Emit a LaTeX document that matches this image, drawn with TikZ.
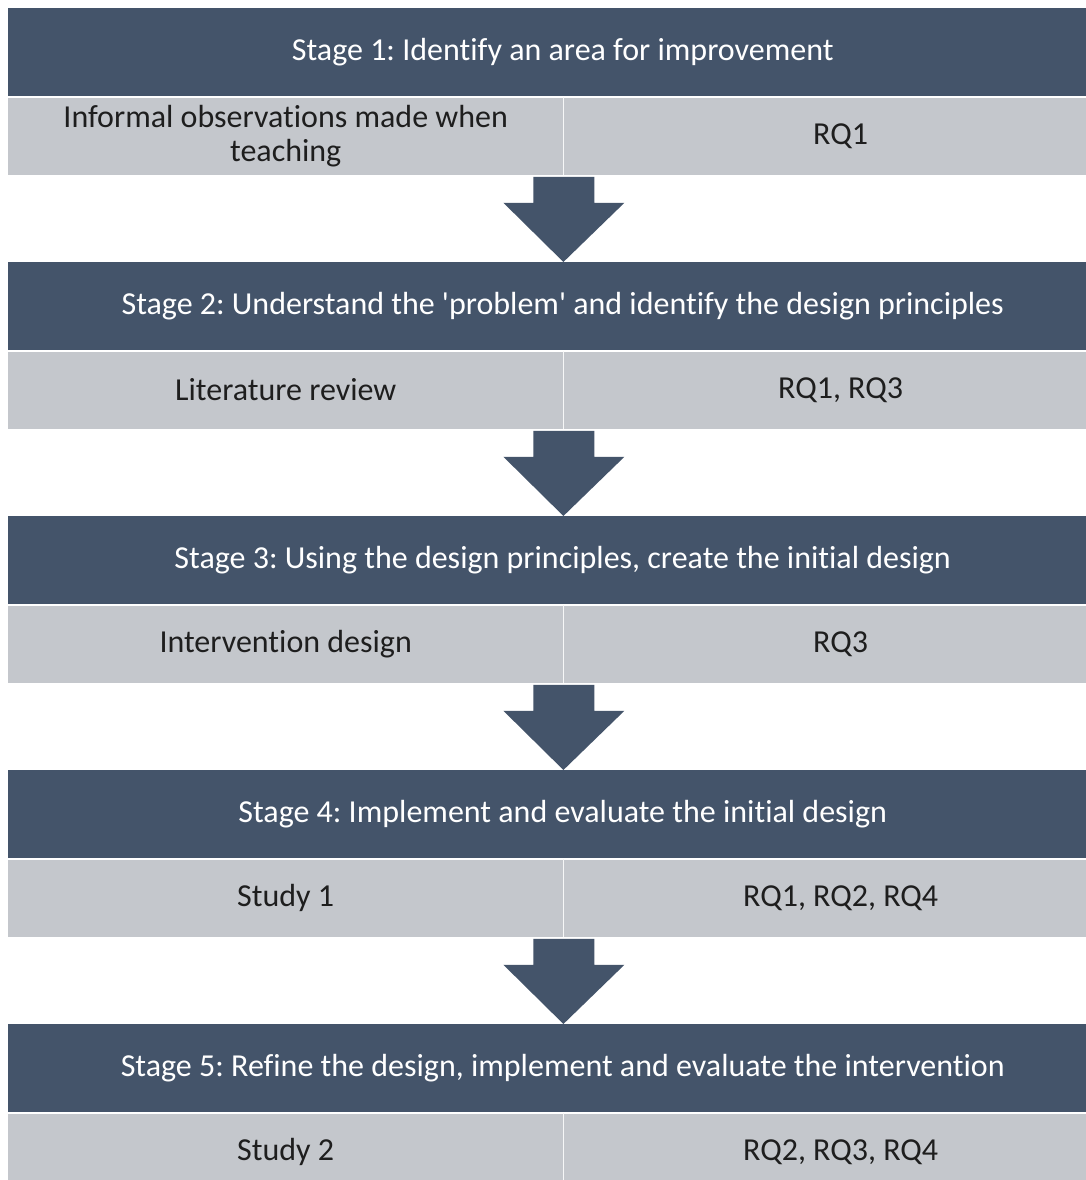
\documentclass[tikz,border=0pt]{standalone}
\usepackage{fontspec}
\setmainfont{Carlito}[Ligatures={TeX,NoCommon}]
\frenchspacing
\usetikzlibrary{calc}
\definecolor{slate}{HTML}{44546A}
\definecolor{rowgray}{HTML}{C4C7CC}
\definecolor{ink}{HTML}{1E1E1E}
\begin{document}
\begin{tikzpicture}[x=1pt,y=-1pt,
  header/.style={fill=slate, text=white, minimum width=1109pt, minimum height=88pt,
    inner sep=0pt, anchor=north west, font=\fontsize{32}{36}\selectfont},
  cell/.style={fill=rowgray, text=ink, minimum width=555pt, minimum height=77pt,
    inner sep=0pt, anchor=north west, align=center, font=\fontsize{32}{34}\selectfont},
  divider/.style={draw=white!85!rowgray, line width=1.5pt},
  blockarrow/.style={fill=slate}]
\useasboundingbox (0,0) rectangle (1086,1180);
\clip (0,0) rectangle (1086,1180);
\fill[white] (0,0) rectangle (1086,1180);

% five stages: dark heading bar over a two-cell grey row
\foreach \i/\head/\left/\right in {
  1/{Stage 1: Identify an area for improvement}/{Informal observations made when\\teaching}/{RQ1},
  2/{Stage 2: Understand the \textquotesingle problem\textquotesingle{} and identify the design principles}/{Literature review}/{RQ1, RQ3},
  3/{Stage 3: Using the design principles, create the initial design}/{Intervention design}/{RQ3},
  4/{Stage 4: Implement and evaluate the initial design}/{Study 1}/{RQ1, RQ2, RQ4},
  5/{Stage 5: Refine the design, implement and evaluate the intervention}/{Study 2}/{RQ2, RQ3, RQ4}} {
  \pgfmathsetmacro\t{8+(\i-1)*254}
  \node[header] (h\i) at (8,\t) {\head};
  \node[cell] (l\i) at ([yshift=-1pt]h\i.south west) {\left};
  \node[cell, minimum width=554pt] (r\i) at (l\i.north east) {\right};
  \draw[divider] (l\i.north east) -- (l\i.south east);
}

% block arrows leading from each stage to the next
\foreach \i in {1,...,4} {
  \pgfmathtruncatemacro\j{\i+1}
  \fill[blockarrow]
    ([xshift=-30pt,yshift=-2pt]l\i.south east) --
    ([xshift=31pt,yshift=-2pt]l\i.south east) --
    ([xshift=31pt,yshift=-28pt]l\i.south east) --
    ([xshift=61pt,yshift=-28pt]l\i.south east) --
    (h\j.north -| l\i.south east) --
    ([xshift=-60pt,yshift=-28pt]l\i.south east) --
    ([xshift=-30pt,yshift=-28pt]l\i.south east) -- cycle;
}
\end{tikzpicture}
\end{document}
